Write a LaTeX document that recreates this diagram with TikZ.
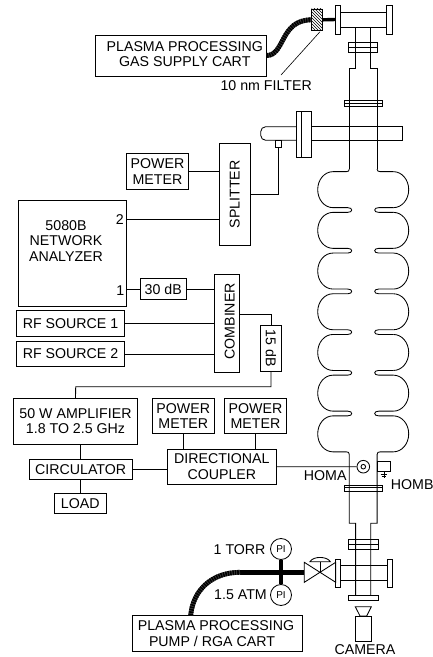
\documentclass[tikz,border=0pt]{standalone}
\usepackage{fontspec}
\setmainfont{Liberation Sans}
\usepackage{tikz}
\usetikzlibrary{patterns}
\definecolor{hoseedge}{HTML}{4A4A4A}
\tikzset{
  wire/.style={line width=.85pt},
  box/.style={draw,wire,inner sep=0pt,align=center,font=\fontsize{14.2}{15.4}\selectfont},
  lab/.style={inner sep=0pt,align=center,font=\fontsize{14.2}{15.4}\selectfont},
  gauge/.style={draw,wire,circle,fill=white,inner sep=0pt,minimum size=21pt,font=\fontsize{10}{10}\selectfont},
  hose/.style={line width=4.8pt,hoseedge,postaction={draw,black,line width=4.8pt,dash pattern=on 1.6pt off .8pt}},
  pipe/.style={line width=4.4pt,black}
}
\begin{document}
\begin{tikzpicture}[x=1pt,y=-1pt]
  \useasboundingbox (0,0) rectangle (433,657);
  % gas cart and filter
  \node[box,minimum width=171pt,minimum height=41pt] (gascart) at (181,55.5) {};
  \node[lab] (gascartlab) at (184.8,53.9) {PLASMA PROCESSING\\GAS SUPPLY CART};
  \node[draw,wire,pattern=north west lines,inner sep=0pt,minimum width=11pt,minimum height=21.7pt] (filter) at (317.2,19.8) {};
  \node[lab,anchor=east] (filterlab) at (312,86) {10 nm FILTER};
  \coordinate (topflange) at (335.3,19.5);
  \coordinate (filtertip) at (281,75);
  \draw[hose] (gascart.east) .. controls (285,55) and (280,20) .. (filter.west);
  \draw[pipe,line width=3.4pt] (filter.east) -- (topflange);
  \draw[line width=.6pt] (filtertip) -- (320,31.7);
  % top cross
  \draw[wire] (335.3,5.7) rectangle (340.7,34);
  \draw[wire] (386.7,5.7) rectangle (392.3,34);
  \draw[wire] (340.7,12.3) -- (386.7,12.3) (340.7,27.7) -- (386.7,27.7);
  \draw[wire] (355.7,27.7) -- (355.7,68) -- (349.3,68) -- (349.3,169);
  \draw[wire] (370.7,27.7) -- (370.7,68) -- (377.1,68) -- (377.1,169);
  \draw[wire] (348.7,42.3) rectangle (377.7,52.7) (348.7,47.7) -- (377.7,47.7);
  \draw[wire] (344.3,100.3) rectangle (382.7,106.3) (344.3,103.3) -- (382.7,103.3);
  % coupler
  \draw[wire,rounded corners=5pt] (296.7,126.7) -| (260.7,140.3) -- (296.7,140.3);
  \draw[wire] (311.3,126.7) -- (402.3,126.7) -- (402.3,140.3) -- (311.3,140.3);
  \draw[wire] (296.7,111.7) rectangle (311.3,157.3) (301.7,111.7) -- (301.7,157.3);
  \draw[wire] (275.3,140.3) rectangle (281.3,147);
  \coordinate (stub) at (278.3,147);
  % cavity
  \foreach \s in {1,-1}{
    \begin{scope}[shift={(363.2,0)},xscale=\s]
      \foreach \c in {189.65,230.35,271.05,311.75,352.45,393.15,433.85}{
        \draw[wire] (-30.2,\c-18) .. controls (-38.7,\c-18) and (-45.5,\c-10) .. (-45.5,\c)
          .. controls (-45.5,\c+10) and (-38.7,\c+18) .. (-30.2,\c+18);
      }
      \foreach \i in {210,250.7,291.4,332.1,372.8,413.5}{
        \draw[wire] (-30.2,\i-2.35) -- (-15.5,\i-2.35) .. controls (-12.8,\i-2.35) and (-11.5,\i-1.3) .. (-11.5,\i)
          .. controls (-11.5,\i+1.3) and (-12.8,\i+2.35) .. (-15.5,\i+2.35) -- (-30.2,\i+2.35);
      }
      \draw[wire] (-13.9,169) .. controls (-13.9,171) and (-15,171.65) .. (-17,171.65) -- (-30.2,171.65);
      \draw[wire] (-30.2,451.85) -- (-17,451.85) .. controls (-15,451.85) and (-13.9,452.5) .. (-13.9,454.5)
        -- (-13.9,523.3) -- (-7.6,523.3) -- (-7.6,595.5);
      \draw[wire] (-19,485) rectangle (19,491) (-19,487.9) -- (19,487.9);
    \end{scope}
  }
  % lower cross
  \draw[wire] (348.7,539.3) rectangle (378,549) (348.7,544) -- (378,544);
  \draw[wire] (335.7,559) rectangle (340.7,587.3);
  \draw[wire] (387,559) rectangle (392.4,587.3);
  \draw[wire] (340.7,565.4) -- (387,565.4) (340.7,580) -- (387,580);
  \draw[wire] (348.7,595.5) rectangle (378,600.2);
  % valve
  \coordinate (valve) at (304.3,572.3);
  \draw[wire] (304.3,562.3) -- (335.7,582.3) -- (335.7,562.3) -- (304.3,582.3) -- cycle;
  \draw[wire] (320,572.3) -- (320,561.7);
  \draw[wire] (310,561.7) .. controls (313,556) and (327,556) .. (330.3,561.7) -- cycle;
  % pump cart and gauges
  \node[box,minimum width=169.7pt,minimum height=35.7pt] (pumpcart) at (217.2,633.2) {};
  \node[lab] (pumpcartlab) at (216,633.7) {PLASMA PROCESSING\\\hspace*{-8pt}PUMP / RGA CART};
  \node[gauge] (torrgauge) at (281,549) {PI};
  \node[gauge] (atmgauge) at (281,595) {PI};
  \node[lab,anchor=east] (torrlab) at (265.7,550) {1 TORR};
  \node[lab,anchor=east] (atmlab) at (267,594.5) {1.5 ATM};
  \coordinate (hoseend) at (240,572.3);
  \draw[pipe] (torrgauge) -- (atmgauge);
  \draw[pipe] (hoseend) -- (valve);
  \draw[hose] (190.7,615.3) .. controls (193,590) and (212,572.3) .. (hoseend);
  % camera
  \node[lab] (cameralab) at (365,650) {CAMERA};
  \draw[wire] (355.3,606.7) -- (371.3,606.7) -- (366.7,616) -- (360,616) -- cycle;
  \draw[wire] (355.3,616) rectangle (371,641.7);
  % left side boxes
  \node[box,minimum width=61.6pt,minimum height=35.6pt] (meterone) at (157.5,171.5) {POWER\\METER};
  \node[box,minimum width=31pt,minimum height=101.6pt] (splitter) at (234.8,194.5) {\rotatebox{90}{SPLITTER}};
  \node[box,minimum width=108pt,minimum height=106pt] (analyzer) at (72.7,253) {};
  \node[lab] (analyzerlab) at (66,240.7) {5080B\\NETWORK\\ANALYZER};
  \node[lab] (porttwo) at (119.7,219.5) {2};
  \node[lab] (portone) at (120.3,290.5) {1};
  \node[box,minimum width=46.7pt,minimum height=20.6pt] (attthirty) at (163.3,289) {30 dB};
  \node[box,minimum width=25.4pt,minimum height=97.6pt] (combiner) at (227,323.5) {};
  \node[lab,rotate=90] (combinerlab) at (229.7,321.3) {COMBINER};
  \node[box,minimum width=108.4pt,minimum height=25.3pt] (rfone) at (70.5,323.4) {RF SOURCE 1};
  \node[box,minimum width=108.4pt,minimum height=25.3pt] (rftwo) at (70.5,354) {RF SOURCE 2};
  \node[box,minimum width=20.6pt,minimum height=45.3pt] (attfifteen) at (271,348.3) {\rotatebox{-90}{15 dB}};
  \node[box,minimum width=123.6pt,minimum height=45.7pt] (amp) at (75.5,421.2) {50 W AMPLIFIER\\1.8 TO 2.5 GHz};
  \node[box,minimum width=103.3pt,minimum height=20pt] (circulator) at (80.7,469.3) {CIRCULATOR};
  \node[box,minimum width=52pt,minimum height=20pt] (load) at (80.3,503.7) {LOAD};
  \node[box,minimum width=108.3pt,minimum height=35pt] (dircoupler) at (221.85,466.8) {DIRECTIONAL\\COUPLER};
  \node[box,minimum width=62pt,minimum height=35.4pt] (metertwo) at (183.3,416) {POWER\\METER};
  \node[box,minimum width=61.6pt,minimum height=35.4pt] (meterthree) at (255.5,416) {POWER\\METER};
  \node[draw,wire,circle,inner sep=0pt,minimum size=12.6pt] (homa) at (363.3,466.7) {};
  \node[draw,wire,circle,inner sep=0pt,minimum size=4.6pt] (homacore) at (homa) {};
  \node[lab,anchor=east] (homalab) at (346.7,475.3) {HOMA};
  \node[draw,wire,inner sep=0pt,minimum width=13.4pt,minimum height=10.2pt] (homb) at (384,466.6) {};
  \node[lab,anchor=west] (homblab) at (390.7,484.3) {HOMB};
  \draw[wire] (homb.south) -- ++(0,6) (380.6,474.2) -- (387.4,474.2) (381.6,476.2) -- (386.4,476.2);
  % connections
  \coordinate (combinertap) at (239.7,314);
  \coordinate (ampbend) at (75.7,386.7);
  \draw[wire] (meterone) -- (meterone -| splitter.west);
  \draw[wire] (porttwo -| analyzer.east) -- (porttwo -| splitter.west);
  \draw[wire] (splitter.east) -| (stub);
  \draw[wire] (attthirty -| analyzer.east) -- (attthirty);
  \draw[wire] (attthirty) -- (attthirty -| combiner.west);
  \draw[wire] (rfone) -- (rfone -| combiner.west);
  \draw[wire] (rftwo) -- (rftwo -| combiner.west);
  \draw[wire] (combinertap) -| (attfifteen.north);
  \draw[wire] (attfifteen.south) |- (ampbend) -- (amp.north);
  \draw[wire] (circulator.north) -- (circulator.north |- amp.south);
  \draw[wire] (circulator.south) -- (circulator.south |- load.north);
  \draw[wire] (circulator) -- (circulator -| dircoupler.west);
  \draw[wire] (metertwo.south) -- (metertwo.south |- dircoupler.north);
  \draw[wire] (meterthree.south) -- (meterthree.south |- dircoupler.north);
  \draw[wire] (dircoupler) -- (homa);
\end{tikzpicture}
\end{document}
